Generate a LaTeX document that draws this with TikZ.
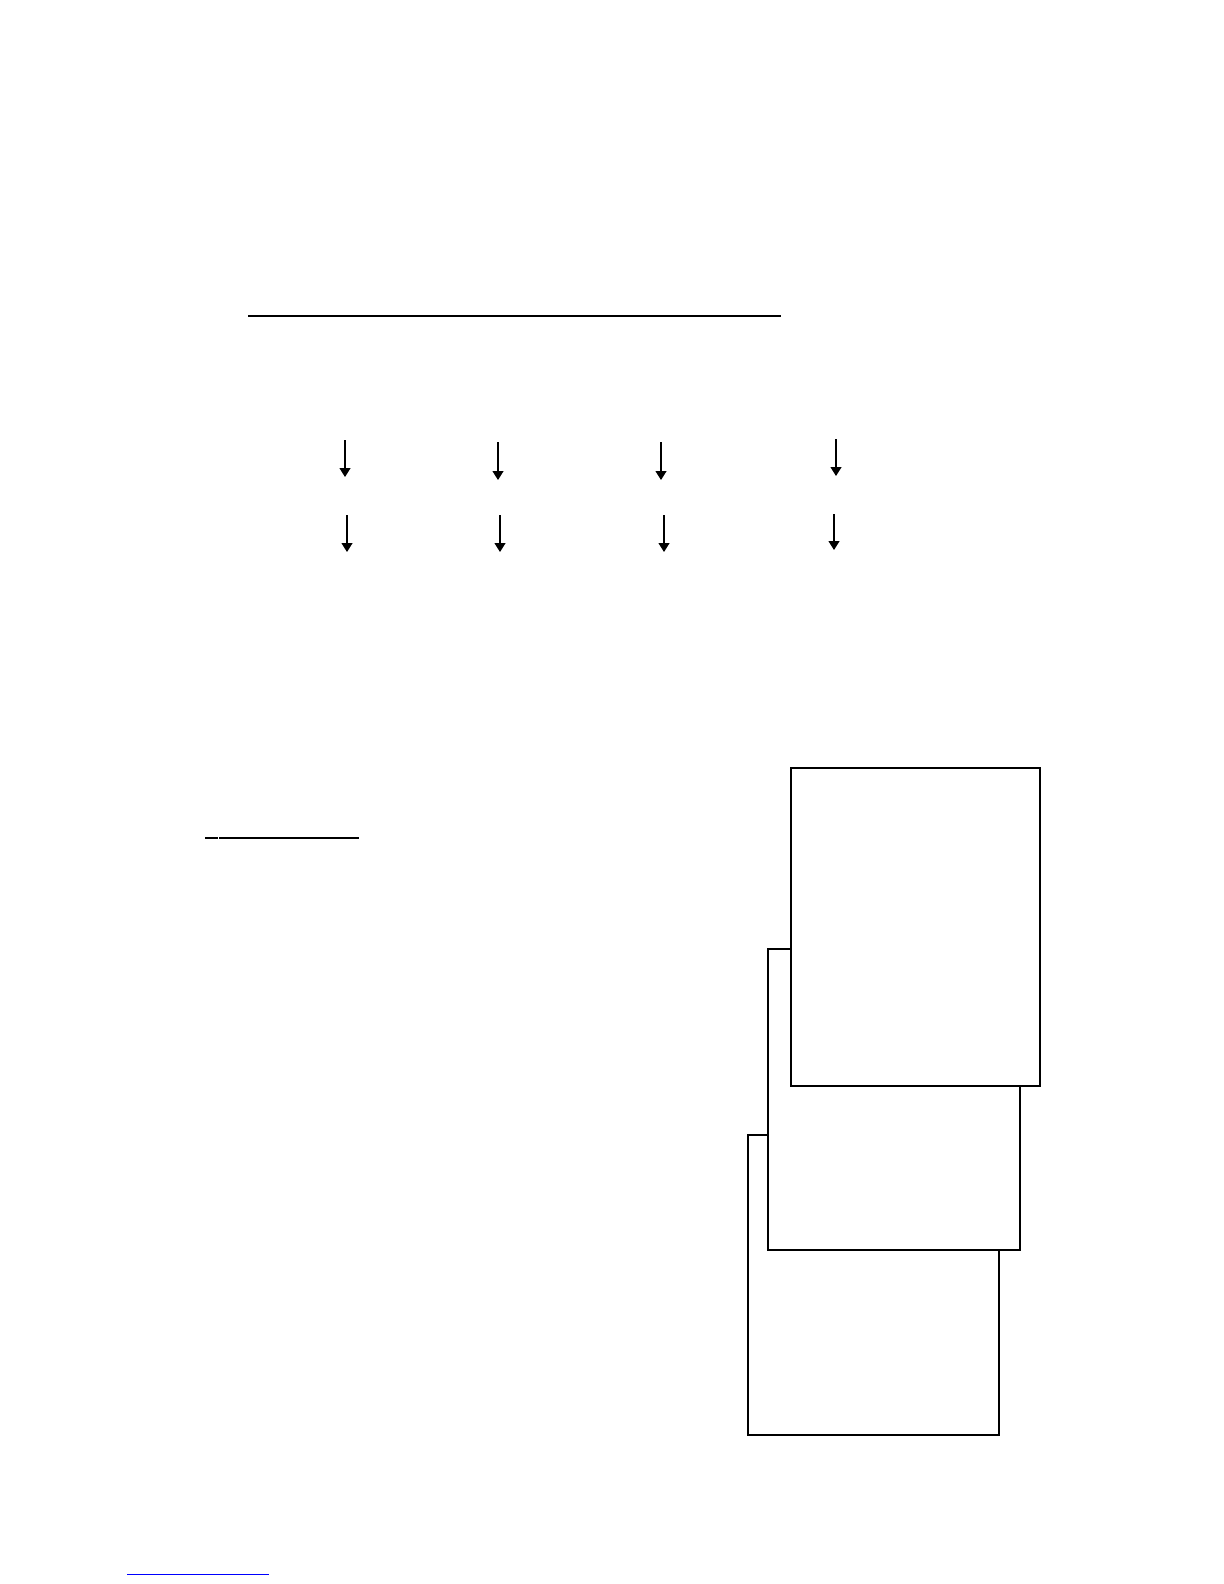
\documentclass[tikz,border=0pt]{standalone}
\usepackage[dvipsnames]{xcolor}
\usetikzlibrary{arrows, arrows.meta}
\usetikzlibrary{positioning}

\begin{document}
\begin{tikzpicture}[x=0.5pt, y=-0.5pt,
		dnarrow/.style={line width=0.6pt, -{Triangle[width=5.5pt,length=4.5pt]}},
		rule/.style={line width=0.6pt},
		card/.style={draw, line width=0.6pt, fill=white}]
					\useasboundingbox (0,0) rectangle (1224,1584);
					%title rule
					\coordinate (tl) at (248,316);
					\coordinate (tr) at (781,316);
					\draw[rule] (tl)--(tr);
					%first row of arrows
					\foreach \x/\a/\b [count=\i] in {345/440/477, 498/442/480, 661/442/480, 836/439/476}{
						\coordinate (up\i) at (\x,\a);
						\coordinate (upend\i) at (\x,\b);
						\draw[dnarrow] (up\i)--(upend\i);
					}
					%second row of arrows
					\foreach \x/\a/\b [count=\i] in {347/515/552, 500/515/552, 664/515/552, 834/514/550}{
						\coordinate (lo\i) at (\x,\a);
						\coordinate (loend\i) at (\x,\b);
						\draw[dnarrow] (lo\i)--(loend\i);
					}
					%short underline
					\coordinate (ua) at (205,838);
					\coordinate (ub) at (218,838);
					\coordinate (uc) at (219,838);
					\coordinate (ud) at (359,838);
					\draw[rule] (ua)--(ub);
					\draw[rule] (uc)--(ud);
					%link underline
					\coordinate (la) at (127,1574);
					\coordinate (lb) at (269,1574);
					\draw[blue, line width=0.5pt] (la)--(lb);
					%stacked cards, back to front
					\draw[card] (748,1135) rectangle (999,1435);
					\draw[card] (768,949) rectangle (1020,1250);
					\draw[card] (791,768) rectangle (1040,1086);
				\end{tikzpicture}
\end{document}
